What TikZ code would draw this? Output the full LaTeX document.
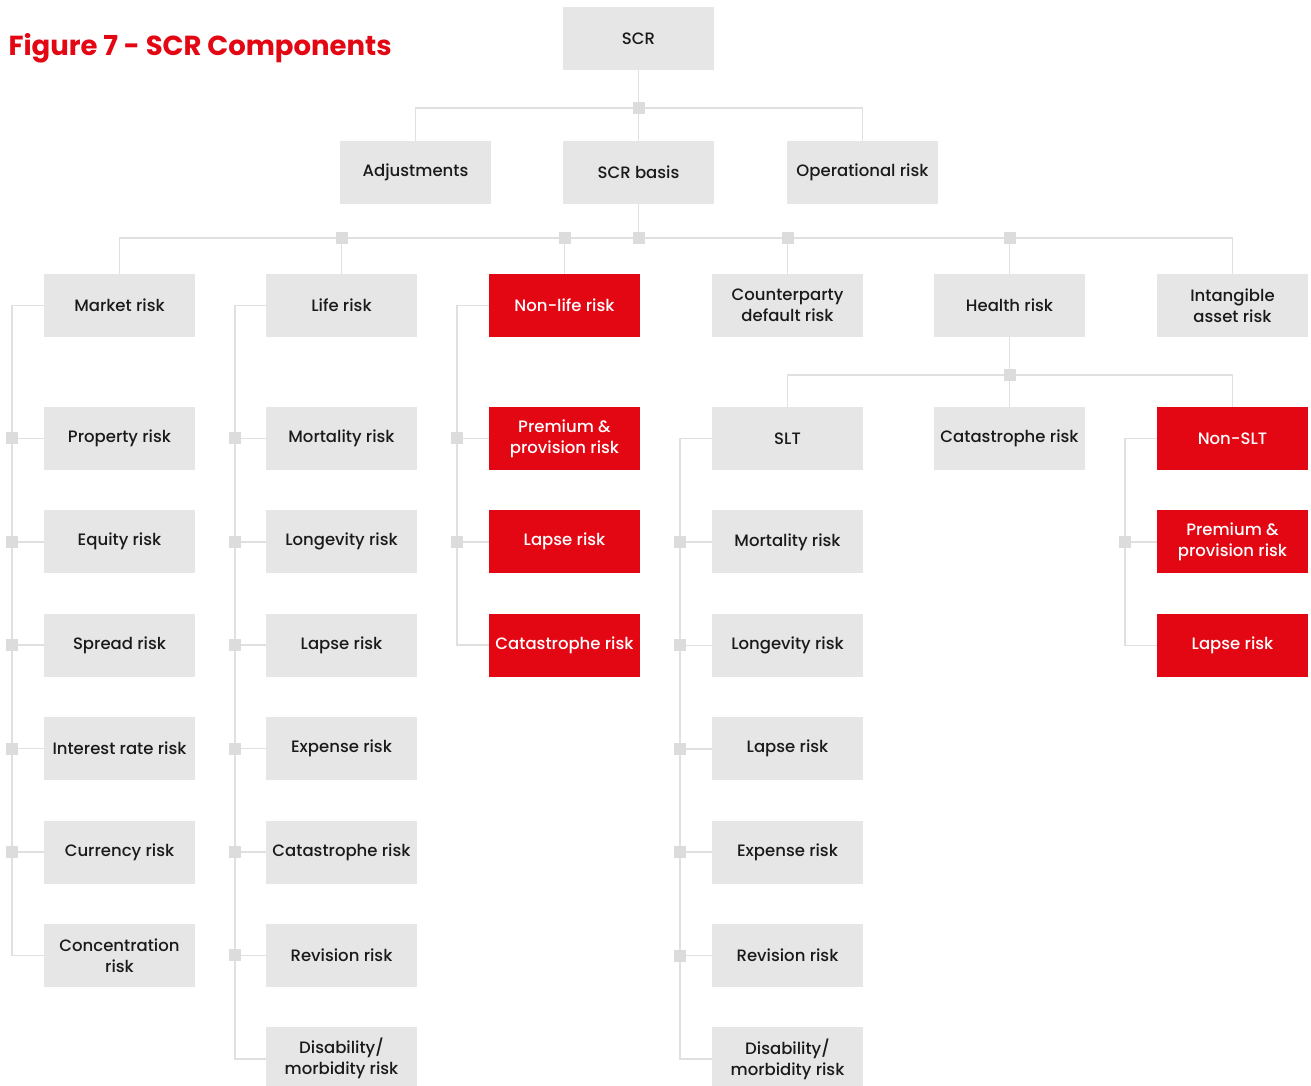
\documentclass[tikz,border=0pt]{standalone}
\usepackage{fontspec}
\setmainfont{Poppins}[UprightFont=* Medium,BoldFont=* Bold]
\usepackage{xcolor}
\usepackage{tikz}
\definecolor{scrred}{HTML}{E30613}
\definecolor{boxgray}{HTML}{E6E6E6}
\definecolor{linegray}{HTML}{E0E0E0}
\definecolor{sqgray}{HTML}{DCDCDC}
\definecolor{txtdark}{HTML}{1A1A1A}

\begin{document}
\begin{tikzpicture}[x=1pt,y=-1pt,
    box/.style={fill=boxgray,text=txtdark,minimum width=151pt,minimum height=63pt,
        inner sep=0pt,align=center,font=\fontsize{16.5}{21}\selectfont},
    redbox/.style={box,fill=scrred,text=white},
    conn/.style={draw=linegray,line width=1.6pt},
    sq/.style={fill=sqgray,minimum size=12pt,inner sep=0pt}]
        \useasboundingbox (0,0) rectangle (1311,1086);
        \node[anchor=west,text=scrred,font=\fontsize{27.5}{32}\bfseries] (title) at (5,48) {Figure 7 - SCR Components};
        % top levels
        \node[box] (scr) at (638.5,38.5) {SCR};
        \node[box] (adj) at (415.5,172.5) {\strut Adjustments};
        \node[box] (basis) at (638.5,172.5) {SCR basis};
        \node[box] (oper) at (862.5,172.5) {\strut Operational risk};
        \node[box] (market) at (119.5,305.5) {Market risk};
        \node[box] (life) at (341.5,305.5) {Life risk};
        \node[redbox] (nonlife) at (564.5,305.5) {Non-life risk};
        \node[box] (default) at (787.5,305.5) {Counterparty\\default risk};
        \node[box] (health) at (1009.5,305.5) {Health risk};
        \node[box] (intang) at (1232.5,305.5) {Intangible\\asset risk};
        \node[box] (slt) at (787.5,438.5) {SLT};
        \node[box] (hcat) at (1009.5,438.5) {\strut Catastrophe risk};
        \node[redbox] (nonslt) at (1232.5,438.5) {Non-SLT};
        % sub-modules
        \foreach \nm/\txt [count=\i] in {m1/Property risk,m2/Equity risk,m3/Spread risk,
            m4/Interest rate risk,m5/Currency risk,m6/{Concentration\\risk}}
            \node[box] (\nm) at (119.5,335+103.4*\i) {\txt};
        \foreach \nm/\txt [count=\i] in {l1/Mortality risk,l2/Longevity risk,l3/Lapse risk,
            l4/Expense risk,l5/Catastrophe risk,l6/Revision risk,l7/{Disability/\\morbidity risk}}
            \node[box] (\nm) at (341.5,335+103.4*\i) {\txt};
        \foreach \nm/\txt [count=\i] in {n1/{Premium \&\\provision risk},n2/Lapse risk,n3/Catastrophe risk}
            \node[redbox] (\nm) at (564.5,335+103.4*\i) {\txt};
        \foreach \nm/\txt [count=\i] in {s1/Mortality risk,s2/Longevity risk,s3/Lapse risk,
            s4/Expense risk,s5/Revision risk,s6/{Disability/\\morbidity risk}}
            \node[box] (\nm) at (787.5,438.5+103.4*\i) {\txt};
        \foreach \nm/\txt [count=\i] in {t1/{Premium \&\\provision risk},t2/Lapse risk}
            \node[redbox] (\nm) at (1232.5,438.5+103.4*\i) {\txt};

        % connectors, top
        \draw[conn] (scr.south) -- ++(0,38) coordinate (j1);
        \draw[conn] (adj.north) |- (j1) -| (oper.north);
        \draw[conn] (j1) -- (basis.north);
        \node[sq] at (j1) {};
        \draw[conn] (basis.south) -- ++(0,34) coordinate (j2);
        \draw[conn] (market.north) |- (j2) -| (intang.north);
        \foreach \nm in {life,nonlife,default,health}
            \draw[conn] (\nm.north) -- (\nm.north |- j2) node[sq]{};
        \node[sq] at (j2) {};
        \draw[conn] (health.south) -- ++(0,38) coordinate (j3);
        \draw[conn] (slt.north) |- (j3) -| (nonslt.north);
        \draw[conn] (j3) -- (hcat.north);
        \node[sq] at (j3) {};
        % connectors, lists
        \draw[conn] (market.west) -- ++(-32,0) |- (m6.west);
        \foreach \nm in {m1,m2,m3,m4,m5}
            \draw[conn] (\nm.west) -- ++(-32,0) node[sq]{};
        \draw[conn] (life.west) -- ++(-31,0) |- (l7.west);
        \foreach \nm in {l1,l2,l3,l4,l5,l6}
            \draw[conn] (\nm.west) -- ++(-31,0) node[sq]{};
        \draw[conn] (nonlife.west) -- ++(-32,0) |- (n3.west);
        \foreach \nm in {n1,n2}
            \draw[conn] (\nm.west) -- ++(-32,0) node[sq]{};
        \draw[conn] (slt.west) -- ++(-32,0) |- (s6.west);
        \foreach \nm in {s1,s2,s3,s4,s5}
            \draw[conn] (\nm.west) -- ++(-32,0) node[sq]{};
        \draw[conn] (nonslt.west) -- ++(-32,0) |- (t2.west);
        \draw[conn] (t1.west) -- ++(-32,0) node[sq]{};
    \end{tikzpicture}
\end{document}
